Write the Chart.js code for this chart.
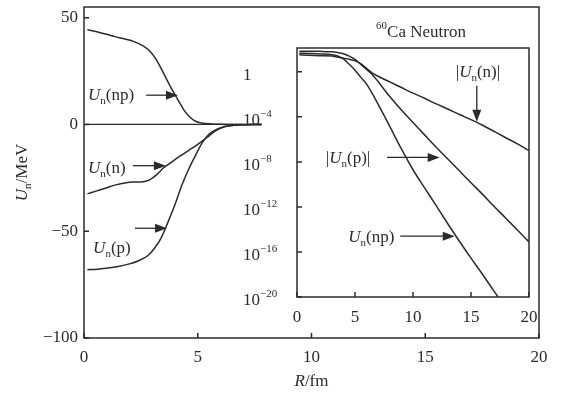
<!DOCTYPE html>
<html>
<head>
<meta charset="utf-8">
<script src="https://cdn.jsdelivr.net/npm/chart.js@4"></script>
<style>
  html, body { margin: 0; padding: 0; background: #fff; }
  #wrap { position: relative; width: 561px; height: 394px; }
  #mainChart { position: absolute; left: 0; top: 0; }
  #insetChart { position: absolute; left: 230px; top: 15px; }
</style>
</head>
<body>
<div id="wrap">
  <canvas id="mainChart" width="561" height="394"></canvas>
  <canvas id="insetChart" width="315" height="315"></canvas>
</div>
<script>
// main panel: R (fm) against U (MeV)
const rNp = [0.15, 0.6, 1.0, 1.4, 1.8, 2.2, 2.6, 2.9, 3.15, 3.4, 3.65, 3.9, 4.15, 4.4, 4.65, 4.9, 5.2, 5.6, 6.0, 6.5, 7.8];
const uNp = [44.3, 43.3, 42.2, 41.0, 40.0, 38.8, 36.8, 34.3, 30.8, 26.0, 20.8, 15.8, 11.2, 6.6, 3.5, 1.5, 0.6, 0.25, 0.1, 0, 0];
const rN = [0.15, 0.6, 1.0, 1.4, 1.8, 2.2, 2.6, 2.9, 3.2, 3.5, 3.8, 4.2, 4.6, 5.0, 5.4, 5.8, 6.2, 6.6, 7.0, 7.8];
const uN = [-32.5, -31.0, -29.6, -28.3, -27.4, -27.0, -26.8, -25.8, -23.5, -20.3, -18.0, -15.0, -12.2, -9.3, -6.1, -2.9, -1.0, -0.4, -0.15, 0];
const rP = [0.15, 0.6, 1.0, 1.5, 2.0, 2.4, 2.8, 3.1, 3.4, 3.7, 4.0, 4.3, 4.6, 4.9, 5.2, 5.5, 5.8, 6.2, 6.6, 7.0, 7.8];
const uP = [-68, -67.8, -67.3, -66.5, -65.3, -63.8, -61.5, -58, -53, -45.5, -37.5, -28.5, -21, -14.5, -8.5, -4.5, -2.4, -1.0, -0.4, -0.15, 0];
const rZero = [0, 7.8];
const uZero = [0, 0];
const mainXTicks = [0, 5, 10, 15, 20];
const mainYTicks = [50, 0, -50, -100];

// inset: |U| on a log axis (60Ca neutron)
const rInNp = [0.2, 1, 2, 3, 3.5, 4, 4.5, 5, 5.5, 6, 7, 8, 9, 10, 11, 12, 13, 14, 15, 16, 17, 17.6];
const uInNp = [44, 42, 39, 33, 25, 14, 4.7, 1.4, 0.32, 0.08, 1.3e-3, 1.4e-5, 1.4e-7, 2e-9, 5e-11, 1.3e-12, 3.2e-14, 8.9e-16, 2.8e-17, 1e-18, 3.2e-20, 4e-21];
const rInP = [0.2, 1, 2, 3, 3.5, 4, 4.5, 5, 5.5, 6, 6.5, 7, 8, 9, 10, 11, 12, 13, 14, 15, 16, 17, 18, 19, 20];
const uInP = [68, 67.3, 65.3, 59, 51, 40, 24.5, 12.5, 4.5, 1.6, 0.55, 0.13, 6.3e-3, 4e-4, 3.2e-5, 2.5e-6, 2e-7, 1.8e-8, 1.6e-9, 1.4e-10, 1.3e-11, 1.1e-12, 1e-13, 8.9e-15, 7.9e-16];
const rInN = [0.2, 1, 2, 3, 3.5, 4, 4.5, 5, 5.5, 6, 6.5, 7, 8, 9, 10, 11, 12, 13, 14, 15, 16, 17, 18, 19, 20];
const uInN = [32.5, 29.5, 27.1, 25, 20.3, 16.5, 12.9, 9.3, 5.3, 2, 0.75, 0.4, 0.126, 0.04, 1.26e-2, 4.5e-3, 1.4e-3, 5e-4, 1.6e-4, 5.6e-5, 1.8e-5, 5e-6, 1.4e-6, 4e-7, 1e-7];
const insetXTicks = [0, 5, 10, 15, 20];
const insetYTicks = [1, 1e-4, 1e-8, 1e-12, 1e-16, 1e-20];

const ink = '#2b2b2b';
const serif = '"Liberation Serif", "DejaVu Serif", serif';

let pts = (xs, ys) => xs.map((x, i) => ({ x: x, y: ys[i] }));

function fontOf(kind) {
  if (kind === 'i') return 'italic 17px ' + serif;
  if (kind === 'sub' || kind === 'sup') return '11px ' + serif;
  return '17px ' + serif;
}

// parts: [text, kind], kind '' | 'i' | 'sub' | 'sup'
function richText(ctx, parts, x, y, align) {
  let widths = parts.map(p => { ctx.font = fontOf(p[1]); return ctx.measureText(p[0]).width; });
  let total = widths.reduce((a, b) => a + b, 0);
  let cx = align === 'center' ? x - total / 2 : x;
  ctx.fillStyle = ink;
  ctx.textAlign = 'left';
  ctx.textBaseline = 'alphabetic';
  parts.forEach((p, i) => {
    ctx.font = fontOf(p[1]);
    let dy = p[1] === 'sub' ? 4 : p[1] === 'sup' ? -8 : 0;
    ctx.fillText(p[0], cx, y + dy);
    cx += widths[i];
  });
}

function arrow(ctx, x1, y1, x2, y2) {
  let a = Math.atan2(y2 - y1, x2 - x1);
  let c = Math.cos(a), s = Math.sin(a);
  ctx.strokeStyle = ink;
  ctx.fillStyle = ink;
  ctx.lineWidth = 1.3;
  ctx.beginPath();
  ctx.moveTo(x1, y1);
  ctx.lineTo(x2 - 8 * c, y2 - 8 * s);
  ctx.stroke();
  ctx.beginPath();
  ctx.moveTo(x2, y2);
  ctx.lineTo(x2 - 12 * c + 4.5 * s, y2 - 12 * s - 4.5 * c);
  ctx.lineTo(x2 - 12 * c - 4.5 * s, y2 - 12 * s + 4.5 * c);
  ctx.closePath();
  ctx.fill();
}

// box round the plot area, short ticks pointing inwards
const framePlugin = {
  id: 'frame',
  beforeDraw(chart, args, opts) {
    if (!opts.fill) return;
    const a = chart.chartArea;
    chart.ctx.save();
    chart.ctx.fillStyle = opts.fill;
    chart.ctx.fillRect(a.left, a.top, a.right - a.left, a.bottom - a.top);
    chart.ctx.restore();
  },
  afterDatasetsDraw(chart) {
    const { ctx, chartArea: a, scales } = chart;
    ctx.save();
    ctx.strokeStyle = ink;
    ctx.lineWidth = 1.5;
    ctx.strokeRect(a.left, a.top, a.right - a.left, a.bottom - a.top);
    ctx.beginPath();
    scales.x.ticks.forEach(t => {
      let px = scales.x.getPixelForValue(t.value);
      ctx.moveTo(px, a.bottom);
      ctx.lineTo(px, a.bottom - 5);
    });
    scales.y.ticks.forEach(t => {
      let py = scales.y.getPixelForValue(t.value);
      ctx.moveTo(a.left, py);
      ctx.lineTo(a.left + 5, py);
    });
    ctx.stroke();
    ctx.restore();
  }
};

const mainNotes = {
  id: 'mainNotes',
  afterDraw(chart) {
    const { ctx, scales: { x, y } } = chart;
    ctx.save();
    let px = v => x.getPixelForValue(v), py = v => y.getPixelForValue(v);
    richText(ctx, [['U', 'i'], ['n', 'sub'], ['(np)', '']], px(0.18), py(11.3));
    arrow(ctx, px(2.73), py(13.7), px(4.13), py(13.7));
    richText(ctx, [['U', 'i'], ['n', 'sub'], ['(n)', '']], px(0.18), py(-22.6));
    arrow(ctx, px(2.15), py(-19.3), px(3.6), py(-19.3));
    richText(ctx, [['U', 'i'], ['n', 'sub'], ['(p)', '']], px(0.4), py(-60));
    arrow(ctx, px(2.24), py(-48.6), px(3.65), py(-48.6));
    // axis titles
    richText(ctx, [['R', 'i'], ['/fm', '']], (chart.chartArea.left + chart.chartArea.right) / 2, 386, 'center');
    ctx.translate(21, (chart.chartArea.top + chart.chartArea.bottom) / 2);
    ctx.rotate(-Math.PI / 2);
    richText(ctx, [['U', 'i'], ['n', 'sub'], ['/MeV', '']], 0, 6, 'center');
    ctx.restore();
  }
};

const insetNotes = {
  id: 'insetNotes',
  afterDraw(chart) {
    const { ctx, chartArea: a, scales: { x, y } } = chart;
    ctx.save();
    let px = v => x.getPixelForValue(v), py = e => y.getPixelForValue(Math.pow(10, e));
    // y tick labels as powers of ten
    insetYTicks.forEach(v => {
      let yy = y.getPixelForValue(v) + 8;
      let e = Math.round(Math.log10(v));
      if (e === 0) richText(ctx, [['1', '']], 13, yy);
      else richText(ctx, [['10', ''], ['\u2212' + Math.abs(e), 'sup']], 13, yy);
    });
    richText(ctx, [['60', 'sup'], ['Ca Neutron', '']], (a.left + a.right) / 2 + 8, 22, 'center');
    richText(ctx, [['|', ''], ['U', 'i'], ['n', 'sub'], ['(n)|', '']], px(15.6), py(-0.44), 'center');
    arrow(ctx, px(15.5), py(-1.24), px(15.5), py(-4.44));
    richText(ctx, [['|', ''], ['U', 'i'], ['n', 'sub'], ['(p)|', '']], px(4.4), py(-8.1), 'center');
    arrow(ctx, px(7.76), py(-7.6), px(12.3), py(-7.6));
    richText(ctx, [['U', 'i'], ['n', 'sub'], ['(np)', '']], px(6.4), py(-15.1), 'center');
    arrow(ctx, px(8.9), py(-14.6), px(13.6), py(-14.6));
    ctx.restore();
  }
};

const lineStyle = { point: { radius: 0 }, line: { borderColor: ink, borderWidth: 1.5, cubicInterpolationMode: 'monotone', fill: false } };
const tickFont = { family: serif, size: 17 };

// keep the plot box where the layout padding puts it
let noEdgePad = s => { s.paddingTop = 0; s.paddingBottom = 0; s.paddingLeft = 0; s.paddingRight = 0; };

new Chart(document.getElementById('mainChart'), {
  type: 'line',
  data: {
    datasets: [
      { data: pts(rZero, uZero), borderWidth: 1.3 },
      { data: pts(rNp, uNp) },
      { data: pts(rN, uN) },
      { data: pts(rP, uP) }
    ]
  },
  options: {
    responsive: false,
    animation: false,
    layout: { padding: { top: 7, right: 22, left: 0, bottom: 0 } },
    elements: lineStyle,
    plugins: { legend: { display: false }, tooltip: { enabled: false } },
    scales: {
      x: {
        type: 'linear', min: 0, max: 20,
        grid: { display: false, drawTicks: false }, border: { display: false },
        afterBuildTicks: s => { s.ticks = mainXTicks.map(v => ({ value: v })); },
        afterFit: s => { s.height = 56; noEdgePad(s); },
        ticks: { padding: 9, color: ink, font: tickFont, maxRotation: 0, callback: v => String(v) }
      },
      y: {
        type: 'linear', min: -100, max: 55,
        grid: { display: false, drawTicks: false }, border: { display: false },
        afterBuildTicks: s => { s.ticks = mainYTicks.map(v => ({ value: v })); },
        afterFit: s => { s.width = 84; noEdgePad(s); },
        ticks: { padding: 6, color: ink, font: tickFont, callback: v => v < 0 ? '\u2212' + (-v) : String(v) }
      }
    }
  },
  plugins: [framePlugin, mainNotes]
});

new Chart(document.getElementById('insetChart'), {
  type: 'line',
  data: {
    datasets: [
      { data: pts(rInN, uInN) },
      { data: pts(rInP, uInP) },
      { data: pts(rInNp, uInNp) }
    ]
  },
  options: {
    responsive: false,
    animation: false,
    layout: { padding: { top: 33, right: 16, left: 0, bottom: 0 } },
    elements: lineStyle,
    plugins: { legend: { display: false }, tooltip: { enabled: false }, frame: { fill: '#ffffff' } },
    scales: {
      x: {
        type: 'linear', min: 0, max: 20,
        grid: { display: false, drawTicks: false }, border: { display: false },
        afterBuildTicks: s => { s.ticks = insetXTicks.map(v => ({ value: v })); },
        afterFit: s => { s.height = 33; noEdgePad(s); },
        ticks: { padding: 10, color: ink, font: tickFont, maxRotation: 0, callback: v => String(v) }
      },
      y: {
        type: 'logarithmic', min: 1e-20, max: 130,
        grid: { display: false, drawTicks: false }, border: { display: false },
        afterBuildTicks: s => { s.ticks = insetYTicks.map(v => ({ value: v })); },
        afterFit: s => { s.width = 67; noEdgePad(s); },
        ticks: { display: false }
      }
    }
  },
  plugins: [framePlugin, insetNotes]
});
</script>
</body>
</html>
